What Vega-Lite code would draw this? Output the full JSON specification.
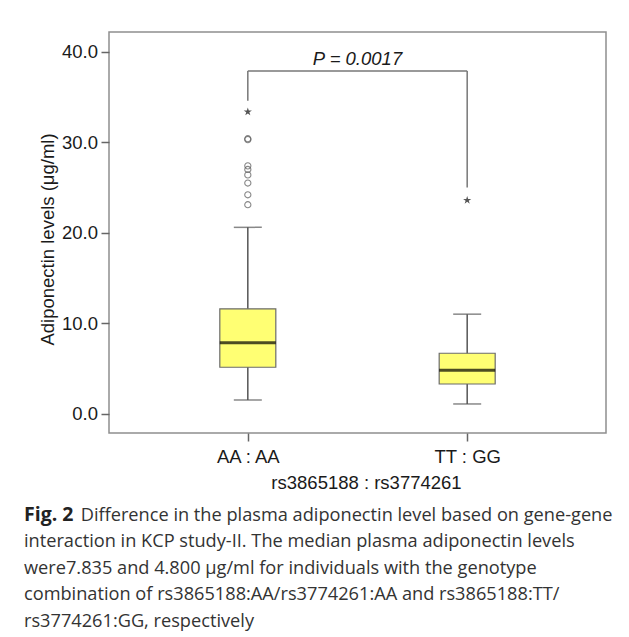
{
  "$schema": "https://vega.github.io/schema/vega-lite/v6.json",
  "width": 497,
  "height": 401,
  "autosize": {"type": "none"},
  "padding": {"left": 109, "top": 32, "right": 23, "bottom": 204},
  "background": "white",
  "config": {
    "view": {"stroke": "#8f8f8f", "strokeWidth": 1.5},
    "axis": {
      "labelFont": "Liberation Sans", "titleFont": "Liberation Sans",
      "labelFontSize": 18.5, "titleFontSize": 18.5, "titleFontWeight": "normal",
      "labelColor": "#1a1a1a", "titleColor": "#1a1a1a",
      "tickColor": "#666666", "tickWidth": 1.5, "tickSize": 8,
      "domain": false, "grid": false
    }
  },
  "title": {
    "text": "Fig. 2",
    "subtitle": [
      "\u200b\u00a0\u00a0\u00a0\u00a0\u00a0\u00a0\u00a0\u00a0\u00a0\u00a0\u00a0\u00a0Difference in the plasma adiponectin level based on gene-gene",
      "interaction in KCP study-II. The median plasma adiponectin levels",
      "were7.835 and 4.800 μg/ml for individuals with the genotype",
      "combination of rs3865188:AA/rs3774261:AA and rs3865188:TT/",
      "rs3774261:GG, respectively"
    ],
    "orient": "bottom", "anchor": "start", "frame": "group", "dx": -85, "offset": 14,
    "font": "Open Sans", "fontSize": 19.5, "fontWeight": "bold", "color": "#222222",
    "subtitleFont": "Open Sans", "subtitleFontSize": 18.2, "subtitleColor": "#333333",
    "subtitleLineHeight": 26.5, "subtitlePadding": -18.6
  },
  "datasets": {
    "boxes": [
      {"group": 1, "lower": 1.51, "q1": 5.13, "median": 7.835, "q3": 11.59, "upper": 20.6},
      {"group": 2, "lower": 1.07, "q1": 3.28, "median": 4.8, "q3": 6.68, "upper": 11.0}
    ],
    "outliers": [
      {"group": 1, "v": 33.37, "kind": "extreme"},
      {"group": 1, "v": 30.3, "kind": "outlier"},
      {"group": 1, "v": 30.4, "kind": "outlier"},
      {"group": 1, "v": 27.4, "kind": "outlier"},
      {"group": 1, "v": 27.0, "kind": "outlier"},
      {"group": 1, "v": 26.4, "kind": "outlier"},
      {"group": 1, "v": 25.5, "kind": "outlier"},
      {"group": 1, "v": 24.2, "kind": "outlier"},
      {"group": 1, "v": 23.1, "kind": "outlier"},
      {"group": 2, "v": 23.6, "kind": "extreme"}
    ],
    "legs": [
      {"group": 1, "top": 37.9, "bottom": 34.6},
      {"group": 2, "top": 37.9, "bottom": 25.0}
    ],
    "bar": [{"group": 1, "group_end": 2, "y": 37.9}],
    "label": [{"group": 1.5, "y": 38.6, "text": "P = 0.0017"}]
  },
  "layer": [
    {
      "data": {"name": "boxes"},
      "mark": {"type": "rule", "color": "#555555", "strokeWidth": 1.5},
      "encoding": {
        "x": {"field": "group", "type": "quantitative",
          "scale": {"domain": [0.39, 2.61], "nice": false, "zero": false},
          "axis": {"values": [1, 2], "labelExpr": "datum.value == 1 ? 'AA : AA' : 'TT : GG'",
            "title": "rs3865188 : rs3774261", "labelPadding": 6, "titlePadding": 8, "titleX": 257}},
        "y": {"field": "lower", "type": "quantitative",
          "scale": {"domain": [-2.14, 42.2], "nice": false, "zero": false},
          "axis": {"values": [0, 10, 20, 30, 40], "format": ".1f",
            "title": "Adiponectin levels (μg/ml)", "labelPadding": 3.5, "titleY": 207}},
        "y2": {"field": "upper"}
      }
    },
    {
      "data": {"name": "boxes"},
      "mark": {"type": "tick", "orient": "horizontal", "size": 28, "thickness": 1.5, "color": "#555555"},
      "encoding": {
        "x": {"field": "group", "type": "quantitative"},
        "y": {"field": "lower", "type": "quantitative"}
      }
    },
    {
      "data": {"name": "boxes"},
      "mark": {"type": "tick", "orient": "horizontal", "size": 28, "thickness": 1.5, "color": "#555555"},
      "encoding": {
        "x": {"field": "group", "type": "quantitative"},
        "y": {"field": "upper", "type": "quantitative"}
      }
    },
    {
      "data": {"name": "boxes"},
      "mark": {"type": "bar", "orient": "vertical", "width": 56, "fill": "#ffff73", "stroke": "#6b6b6b", "strokeWidth": 1.2},
      "encoding": {
        "x": {"field": "group", "type": "quantitative"},
        "y": {"field": "q1", "type": "quantitative"},
        "y2": {"field": "q3"}
      }
    },
    {
      "data": {"name": "boxes"},
      "mark": {"type": "tick", "orient": "horizontal", "size": 56, "thickness": 3, "color": "#000000"},
      "encoding": {
        "x": {"field": "group", "type": "quantitative"},
        "y": {"field": "median", "type": "quantitative"}
      }
    },
    {
      "data": {"name": "outliers"},
      "transform": [{"filter": "datum.kind == 'outlier'"}],
      "mark": {"type": "point", "filled": false, "stroke": "#555555", "strokeWidth": 1.1, "size": 38},
      "encoding": {
        "x": {"field": "group", "type": "quantitative"},
        "y": {"field": "v", "type": "quantitative"}
      }
    },
    {
      "data": {"name": "outliers"},
      "transform": [{"filter": "datum.kind == 'extreme'"}],
      "mark": {"type": "point", "filled": true, "color": "#555555", "size": 75, "opacity": 1,
        "shape": "M0,-1L0.223,-0.307L0.951,-0.309L0.361,0.117L0.588,0.809L0,0.38L-0.588,0.809L-0.361,0.117L-0.951,-0.309L-0.223,-0.307Z"},
      "encoding": {
        "x": {"field": "group", "type": "quantitative"},
        "y": {"field": "v", "type": "quantitative"}
      }
    },
    {
      "data": {"name": "legs"},
      "mark": {"type": "rule", "color": "#777777", "strokeWidth": 1.5},
      "encoding": {
        "x": {"field": "group", "type": "quantitative"},
        "y": {"field": "top", "type": "quantitative"},
        "y2": {"field": "bottom"}
      }
    },
    {
      "data": {"name": "bar"},
      "mark": {"type": "rule", "color": "#777777", "strokeWidth": 1.5},
      "encoding": {
        "x": {"field": "group", "type": "quantitative"},
        "x2": {"field": "group_end"},
        "y": {"field": "y", "type": "quantitative"}
      }
    },
    {
      "data": {"name": "label"},
      "mark": {"type": "text", "font": "Liberation Sans", "fontSize": 18.5, "fontStyle": "italic", "color": "#1a1a1a", "baseline": "alphabetic", "align": "center"},
      "encoding": {
        "x": {"field": "group", "type": "quantitative"},
        "y": {"field": "y", "type": "quantitative"},
        "text": {"field": "text"}
      }
    }
  ]
}
